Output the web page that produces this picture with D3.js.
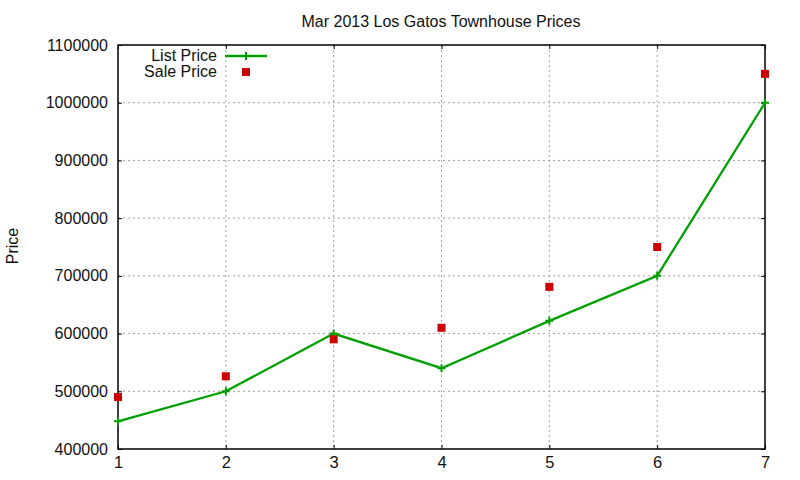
<!DOCTYPE html>
<html>
<head>
<meta charset="utf-8">
<script src="https://cdn.jsdelivr.net/npm/d3@7"></script>
<style>
  body { margin: 0; background: #fff; }
  text { font-family: "Liberation Sans", Arial, sans-serif; fill: #111; }
</style>
</head>
<body>
<div id="chart"></div>
<script>
var months = [1, 2, 3, 4, 5, 6, 7];
var listPrice = [448000, 500000, 600000, 540000, 622000, 700000, 1000000];
var salePrice = [490000, 526000, 590000, 610000, 681000, 750000, 1050000];
var yTicks = [400000, 500000, 600000, 700000, 800000, 900000, 1000000, 1100000];

var width = 800, height = 480;
var plotLeft = 118, plotRight = 765, plotTop = 45, plotBottom = 449;

var svg = d3.select("#chart")
            .append("svg")
            .attr("width", width)
            .attr("height", height);

var x = d3.scaleLinear().domain([1, 7]).range([plotLeft, plotRight]);
var y = d3.scaleLinear().domain([400000, 1100000]).range([plotBottom, plotTop]);

// grid
svg.append("g").selectAll("line")
   .data(months.slice(1, -1))
   .enter().append("line")
   .attr("x1", function(d) { return x(d); })
   .attr("x2", function(d) { return x(d); })
   .attr("y1", plotTop).attr("y2", plotBottom)
   .attr("stroke", "#a0a0a0")
   .attr("stroke-dasharray", "2,3");

svg.append("g").selectAll("line")
   .data(yTicks.slice(1, -1))
   .enter().append("line")
   .attr("y1", function(d) { return y(d); })
   .attr("y2", function(d) { return y(d); })
   .attr("x1", plotLeft).attr("x2", plotRight)
   .attr("stroke", "#a0a0a0")
   .attr("stroke-dasharray", "2,3");

// axes, ticks inside with mirrored copies
var fmt = d3.format("d");
var gx = svg.append("g").attr("transform", "translate(0," + plotBottom + ")")
            .call(d3.axisBottom(x).tickValues(months).tickFormat(fmt).tickSizeInner(-4).tickSizeOuter(0).tickPadding(7));
var gx2 = svg.append("g").attr("transform", "translate(0," + plotTop + ")")
            .call(d3.axisTop(x).tickValues(months).tickFormat("").tickSizeInner(-4).tickSizeOuter(0));
var gy = svg.append("g").attr("transform", "translate(" + plotLeft + ",0)")
            .call(d3.axisLeft(y).tickValues(yTicks).tickFormat(fmt).tickSizeInner(-4).tickSizeOuter(0).tickPadding(10));
var gy2 = svg.append("g").attr("transform", "translate(" + plotRight + ",0)")
            .call(d3.axisRight(y).tickValues(yTicks).tickFormat("").tickSizeInner(-4).tickSizeOuter(0));

[gx, gx2, gy, gy2].forEach(function(g) {
    g.select(".domain").remove();
    g.selectAll("line").attr("stroke", "#000");
    g.selectAll("text").attr("font-size", "16px").attr("fill", "#111")
     .style("font-family", "'Liberation Sans', Arial, sans-serif");
});
gx.selectAll("text").attr("font-size", "16.5px");

svg.append("rect")
   .attr("x", plotLeft).attr("y", plotTop)
   .attr("width", plotRight - plotLeft).attr("height", plotBottom - plotTop)
   .attr("fill", "none").attr("stroke", "#000").attr("stroke-width", 1.5);

// list price line
var line = d3.line()
             .x(function(d, i) { return x(months[i]); })
             .y(function(d) { return y(d); });

svg.append("path")
   .datum(listPrice)
   .attr("d", line)
   .attr("fill", "none")
   .attr("stroke", "#00a000")
   .attr("stroke-width", 2.3);

svg.selectAll(".plusMark")
   .data(listPrice)
   .enter().append("path")
   .attr("class", "plusMark")
   .attr("d", "M-4,0H4M0,-4V4")
   .attr("transform", function(d, i) { return "translate(" + x(months[i]) + "," + y(d) + ")"; })
   .attr("stroke", "#00a000")
   .attr("stroke-width", 2);

// sale price points
svg.selectAll(".saleMark")
   .data(salePrice)
   .enter().append("rect")
   .attr("class", "saleMark")
   .attr("x", function(d, i) { return x(months[i]) - 4; })
   .attr("y", function(d) { return y(d) - 4; })
   .attr("width", 8)
   .attr("height", 8)
   .attr("fill", "#cc0000");

// title and labels
svg.append("text")
   .text("Mar 2013 Los Gatos Townhouse Prices")
   .attr("x", 441).attr("y", 27)
   .attr("text-anchor", "middle")
   .attr("font-size", "16px");

svg.append("text")
   .text("Price")
   .attr("transform", "translate(18,246) rotate(-90)")
   .attr("text-anchor", "middle")
   .attr("font-size", "16px");

// legend
var legend = svg.append("g");
legend.append("text").text("List Price")
      .attr("x", 217).attr("y", 61).attr("text-anchor", "end").attr("font-size", "16px");
legend.append("text").text("Sale Price")
      .attr("x", 217).attr("y", 77).attr("text-anchor", "end").attr("font-size", "16px");
legend.append("line")
      .attr("x1", 225).attr("x2", 267).attr("y1", 56).attr("y2", 56)
      .attr("stroke", "#00a000").attr("stroke-width", 2.3);
legend.append("path")
      .attr("d", "M-4,0H4M0,-4V4")
      .attr("transform", "translate(246,56)")
      .attr("stroke", "#00a000").attr("stroke-width", 2);
legend.append("rect")
      .attr("x", 242).attr("y", 68).attr("width", 8).attr("height", 8)
      .attr("fill", "#cc0000");
</script>
</body>
</html>
